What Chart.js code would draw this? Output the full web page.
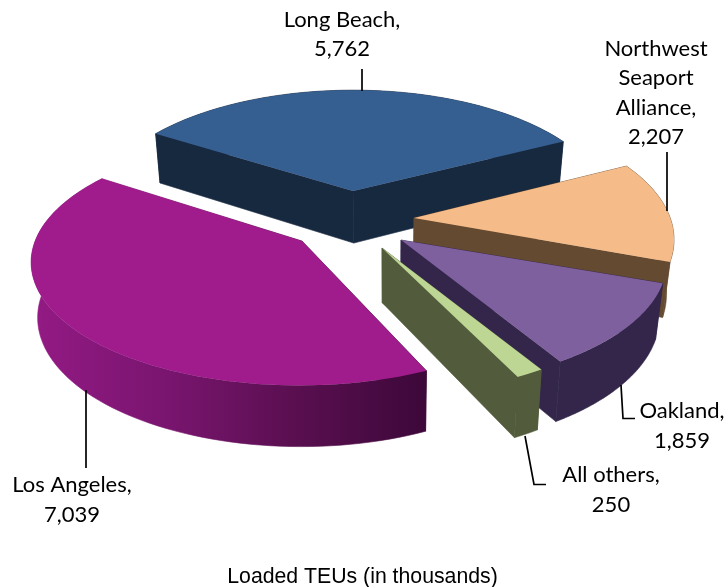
<!DOCTYPE html>
<html><head><meta charset="utf-8">
<style>html,body{margin:0;padding:0;background:#fff}canvas{display:block}</style>
<script src="https://cdn.jsdelivr.net/npm/chart.js@4"></script>
</head><body>
<canvas id="c" width="725" height="587"></canvas>
<script>
// Data
const categories = ['Long Beach','Northwest Seaport Alliance','Oakland','All others','Los Angeles'];
const teus = [5762,2207,1859,250,7039];
const axisTitle = 'Loaded TEUs (in thousands)';

// Style
const topColors  = ['#365F91','#F5BC8A','#7F609E','#BED694','#A01C8C'];
const wallColors = ['#17293F','#644A30','#33264A','#525C3D',null];
const laWall = ['#931A84','#7A1570','#5A0F50','#3D083A'];
const labelFont = '22px Lato';
// Exploded apex of each slice, chart-area pixels
const apex = [[353,191],[414,218],[401,240],[382,248],[302,241]];
// Per-slice fit of the projected outline: x scale, y scale, x shear, y shear
const fit = [[0.968,1,0,0],[0.978,1.05,0,0],[1,1.03,0,0],[1,1.03,0,0],[1.01,1.015,-0.1,0.02]];
// Projection of the flat pie
const HX = 262, HY = 118, PERSP = 0.17, DEPTH0 = 52, DEPTHK = 0.047, SHRINK_L = 0.018, SHRINK_R = 0.027, VX = 395;
// Label anchors: [centre x, first baseline, line height]
const labelPos = [[342,27,29],[656,56,29.4],[682,418,30],[611,482,30],[72,492,29.5]];
const labelWrap = [false,true,false,false,false];
const leaders = [
  [[362,69],[362,91]],
  [[667,152],[667,211]],
  [[621,385],[623,418.5],[635,418.5]],
  [[525,436],[534,484.5],[546,484.5]],
  [[86,390],[86,468]]
];

const project3d = {
  id:'project3d',
  beforeDatasetDraw(chart,args){
    const ctx = chart.ctx, area = chart.chartArea;
    const meta = args.meta;
    meta.data.forEach((arc,i)=>{
      const p = arc.getProps(['startAngle','endAngle'],true);
      const ax = area.left+apex[i][0], ay = area.top+apex[i][1];
      const f = fit[i];
      const pt = a=>{ // a: Chart.js arc angle
        const s = Math.cos(a), c = -Math.sin(a), w = 1+PERSP*c;
        const dx = f[0]*HX*s/w, dy = -f[1]*HY*c/w;
        return [ax+dx+f[2]*dy, ay+dy+f[3]*dx];
      };
      const drop = q=>{
        const d = DEPTH0+DEPTHK*(q[1]-190);
        return [q[0]+(VX-q[0])*(q[0]<VX?SHRINK_L:SHRINK_R), q[1]+d];
      };
      const n = 80, rim=[];
      for(let j=0;j<=n;j++) rim.push(pt(p.startAngle+(p.endAngle-p.startAngle)*j/n));
      const A=[ax,ay];
      let wall = wallColors[i];
      if(!wall){
        const g = ctx.createLinearGradient(area.left+33,0,area.left+425,0);
        laWall.forEach((col,j)=>g.addColorStop(j/(laWall.length-1),col));
        wall = g;
      }
      const poly=(pts,fill,seal)=>{
        ctx.beginPath();
        pts.forEach((q,j)=>j?ctx.lineTo(q[0],q[1]):ctx.moveTo(q[0],q[1]));
        ctx.closePath();
        ctx.fillStyle=fill; ctx.fill();
        if(seal){ctx.strokeStyle=fill;ctx.lineWidth=0.6;ctx.stroke();}
      };
      // cut faces and outer rim wall
      poly([A,rim[0],drop(rim[0]),drop(A)],wall,true);
      poly([A,rim[n],drop(rim[n]),drop(A)],wall,true);
      poly(rim.concat(rim.slice().reverse().map(drop)),wall,true);
      // top face
      poly([A].concat(rim),topColors[i],false);
    });
    return false;
  },
  afterDatasetsDraw(chart){
    const ctx = chart.ctx;
    ctx.save();
    ctx.strokeStyle='#000'; ctx.lineWidth=1.7;
    leaders.forEach(l=>{
      ctx.beginPath();
      l.forEach((q,j)=>j?ctx.lineTo(q[0],q[1]):ctx.moveTo(q[0],q[1]));
      ctx.stroke();
    });
    ctx.fillStyle='#000'; ctx.font=labelFont; ctx.textAlign='center'; ctx.textBaseline='alphabetic';
    categories.forEach((name,i)=>{
      const lines = labelWrap[i]?name.split(' '):[name];
      lines[lines.length-1]+=',';
      lines.push(teus[i].toLocaleString('en-US'));
      lines.forEach((t,j)=>ctx.fillText(t,labelPos[i][0],labelPos[i][1]+j*labelPos[i][2]));
    });
    ctx.restore();
  }
};

new Chart(document.getElementById('c'),{
  type:'pie',
  data:{labels:categories,datasets:[{data:teus,backgroundColor:topColors,borderWidth:0}]},
  options:{
    responsive:false,animation:false,rotation:-58,
    layout:{padding:0},
    plugins:{
      legend:{display:false},tooltip:{enabled:false},
      title:{display:true,text:axisTitle,position:'bottom',color:'#000',
        font:{family:'"Liberation Sans"',size:21.25,weight:'normal',lineHeight:0.9},padding:{top:0,bottom:0}}
    }
  },
  plugins:[project3d]
});
</script>
</body></html>
